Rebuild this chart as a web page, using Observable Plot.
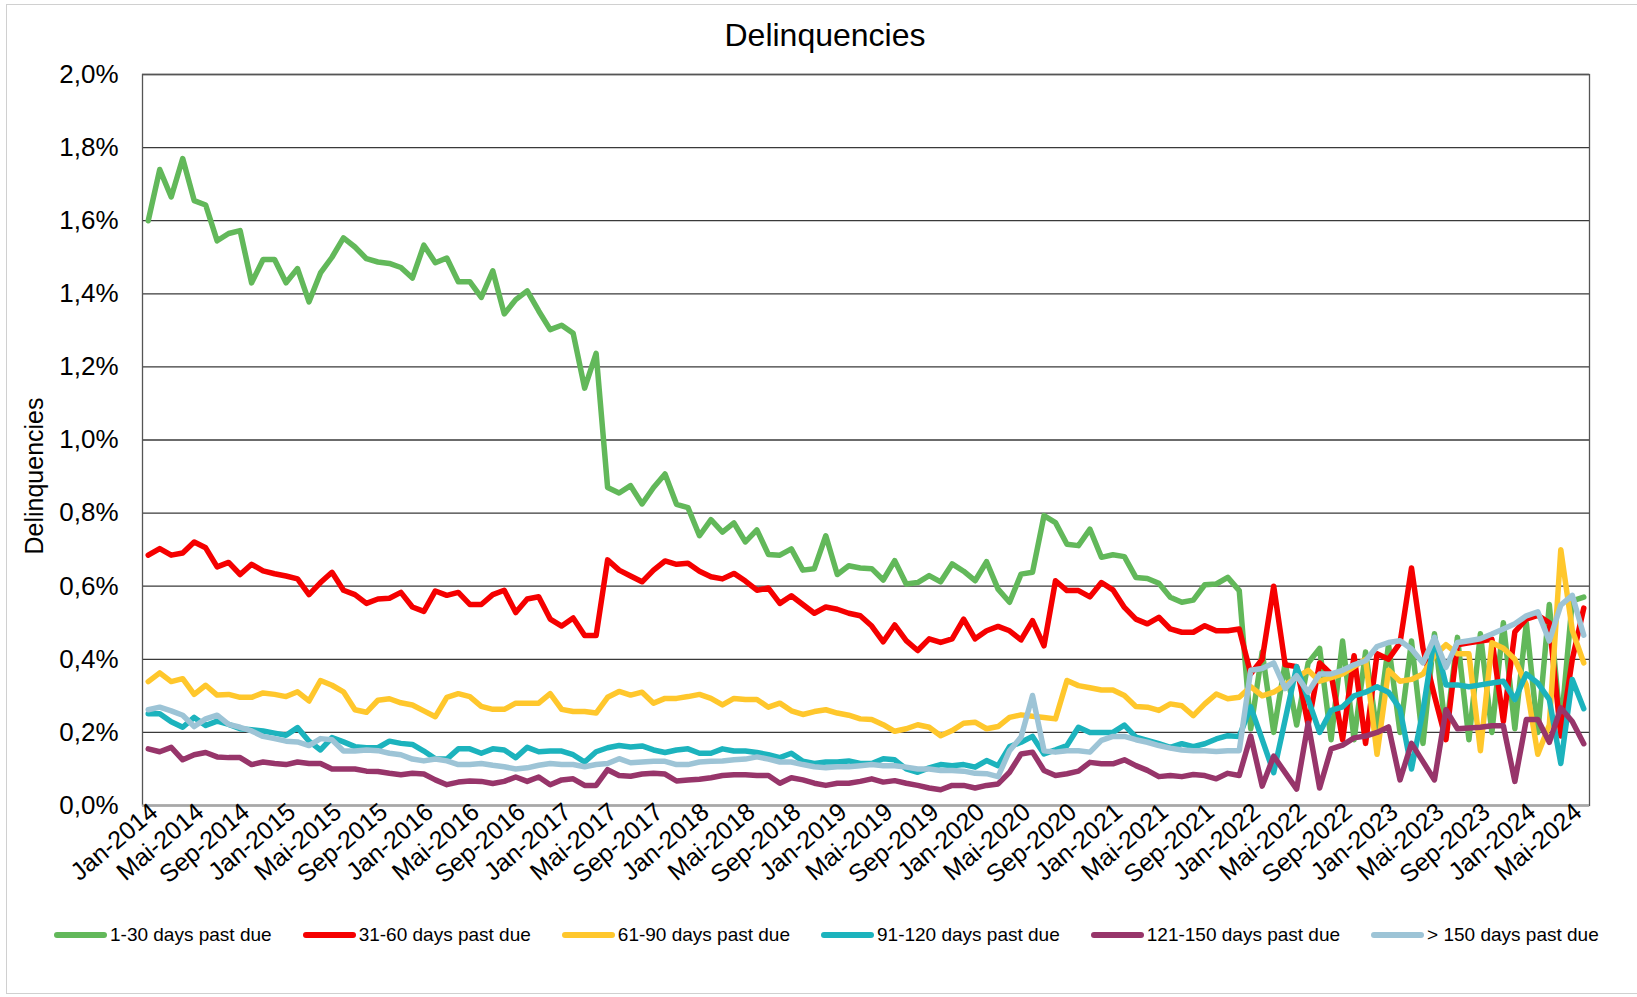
<!DOCTYPE html>
<html>
<head>
<meta charset="utf-8">
<script src="https://cdn.jsdelivr.net/npm/d3@7"></script>
<script src="https://cdn.jsdelivr.net/npm/@observablehq/plot@0.6"></script>
<style>
  html, body { margin: 0; padding: 0; background: #fff; overflow: hidden; }
  #wrap { position: relative; width: 1637px; height: 997px; font-family: "Liberation Sans", Arial, sans-serif; color: #000; }
  #border { position: absolute; left: 6px; top: 4px; width: 1660px; height: 990px; border: 1px solid #d0d0d0; box-sizing: border-box; }
  #title { position: absolute; left: 6px; width: 1638px; top: 16px; text-align: center; font-size: 32px; line-height: 38px; }
  #ylabel { position: absolute; left: 34px; top: 476px; transform: translate(-50%, -50%) rotate(-90deg); font-size: 25px; white-space: nowrap; }
  #chart { position: absolute; left: 0; top: 0; }
  #legend { position: absolute; left: 54px; top: 924px; display: flex; align-items: center; gap: 31px; font-size: 19px; white-space: nowrap; }
  .item { display: flex; align-items: center; gap: 3px; }
  .sw { width: 53px; height: 6px; border-radius: 3px; }
</style>
</head>
<body>
<div id="wrap">
  <div id="border"></div>
  <div id="chart"></div>
  <div id="title">Delinquencies</div>
  <div id="ylabel">Delinquencies</div>
  <div id="legend"></div>
</div>
<script>
// Series names and colours
const seriesNames = ["1-30 days past due", "31-60 days past due", "61-90 days past due", "91-120 days past due", "121-150 days past due", "> 150 days past due"];
const seriesColors = ["#62b85a", "#f50000", "#ffc72c", "#1cb3bd", "#97356a", "#9dc4d6"];

// X tick labels (every 4 months, Jan-2014 .. Mai-2024); data runs monthly Jan-2014 .. Jun-2024 (126 months)
const tickLabels = ["Jan-2014","Mai-2014","Sep-2014","Jan-2015","Mai-2015","Sep-2015","Jan-2016","Mai-2016","Sep-2016","Jan-2017","Mai-2017","Sep-2017","Jan-2018","Mai-2018","Sep-2018","Jan-2019","Mai-2019","Sep-2019","Jan-2020","Mai-2020","Sep-2020","Jan-2021","Mai-2021","Sep-2021","Jan-2022","Mai-2022","Sep-2022","Jan-2023","Mai-2023","Sep-2023","Jan-2024","Mai-2024"];
const yTicks = [0, 0.2, 0.4, 0.6, 0.8, 1.0, 1.2, 1.4, 1.6, 1.8, 2.0];

// Values in percent, one per month from Jan-2014
const d1_30 = [1.60,1.74,1.665,1.77,1.655,1.643,1.545,1.565,1.573,1.43,1.494,1.494,1.43,1.469,1.378,1.457,1.50,1.553,1.528,1.496,
1.487,1.483,1.472,1.443,1.533,1.485,1.498,1.433,1.433,1.390,1.463,1.345,1.384,1.408,1.353,1.302,1.314,1.292,1.142,1.237,
0.870,0.855,0.875,0.825,0.870,0.907,0.824,0.815,0.738,0.782,0.748,0.773,0.721,0.754,0.687,0.685,0.702,0.644,0.648,0.738,
0.632,0.656,0.650,0.648,0.617,0.670,0.606,0.610,0.629,0.612,0.661,0.641,0.615,0.667,0.592,0.556,0.633,0.638,0.793,0.774,
0.715,0.711,0.756,0.679,0.686,0.681,0.624,0.621,0.608,0.570,0.556,0.562,0.604,0.606,0.624,0.588,
0.21,0.42,0.20,0.39,0.22,0.39,0.43,0.18,0.45,0.18,0.42,0.20,0.44,0.20,0.45,0.17,0.47,0.20,0.46,0.18,
0.47,0.20,0.50,0.21,0.50,0.20,0.55,0.21,0.56,0.57];
const d31_60 = [0.685,0.703,0.685,0.691,0.721,0.705,0.653,0.665,0.632,0.660,0.642,0.634,0.628,0.620,0.577,0.610,0.638,0.589,0.577,0.553,
0.565,0.567,0.583,0.543,0.531,0.587,0.575,0.583,0.550,0.550,0.577,0.589,0.528,0.565,0.571,0.510,0.491,0.513,0.465,0.465,
0.672,0.644,0.628,0.612,0.644,0.669,0.660,0.663,0.641,0.626,0.620,0.635,0.614,0.589,0.595,0.553,0.574,0.550,0.526,0.543,
0.537,0.526,0.519,0.491,0.448,0.494,0.451,0.424,0.456,0.446,0.456,0.510,0.456,0.478,0.490,0.478,0.453,0.506,0.437,0.615,
0.588,0.588,0.571,0.610,0.590,0.542,0.510,0.497,0.515,0.483,0.474,0.474,0.492,0.478,0.478,0.483,
0.36,0.40,0.60,0.385,0.38,0.22,0.39,0.36,0.18,0.41,0.17,0.415,0.40,0.445,0.65,0.43,0.30,0.18,0.44,0.445,
0.45,0.455,0.23,0.475,0.51,0.52,0.50,0.19,0.40,0.54];
const d61_90 = [0.339,0.363,0.339,0.347,0.304,0.329,0.302,0.304,0.296,0.296,0.308,0.304,0.298,0.311,0.286,0.342,0.329,0.311,0.262,0.255,
0.288,0.292,0.281,0.275,0.259,0.243,0.296,0.306,0.298,0.271,0.263,0.263,0.280,0.280,0.280,0.306,0.263,0.257,0.257,0.253,
0.296,0.312,0.302,0.310,0.280,0.293,0.293,0.298,0.304,0.293,0.275,0.293,0.290,0.290,0.269,0.280,0.259,0.249,0.257,0.262,
0.253,0.247,0.237,0.235,0.221,0.203,0.210,0.221,0.214,0.191,0.205,0.225,0.228,0.210,0.216,0.241,0.248,0.244,0.241,0.237,
0.342,0.328,0.322,0.316,0.316,0.301,0.271,0.269,0.260,0.278,0.273,0.246,0.278,0.305,0.292,0.296,
0.325,0.30,0.31,0.33,0.35,0.37,0.34,0.35,0.36,0.38,0.40,0.14,0.37,0.34,0.345,0.36,0.41,0.44,0.415,0.415,
0.15,0.445,0.43,0.40,0.33,0.14,0.22,0.70,0.48,0.39];
const d91_120 = [0.251,0.251,0.229,0.214,0.241,0.219,0.231,0.222,0.210,0.207,0.204,0.198,0.192,0.213,0.176,0.152,0.186,0.174,0.161,0.158,
0.158,0.176,0.170,0.167,0.149,0.128,0.127,0.155,0.155,0.143,0.155,0.152,0.131,0.159,0.147,0.149,0.149,0.139,0.119,0.147,
0.158,0.164,0.160,0.163,0.152,0.145,0.152,0.155,0.143,0.143,0.155,0.149,0.149,0.145,0.139,0.131,0.143,0.121,0.115,0.119,
0.119,0.122,0.115,0.115,0.128,0.125,0.100,0.091,0.103,0.112,0.109,0.112,0.105,0.123,0.109,0.161,0.173,0.189,0.141,0.152,
0.164,0.214,0.200,0.200,0.200,0.220,0.187,0.178,0.169,0.159,0.169,0.161,0.169,0.182,0.191,0.189,
0.27,0.18,0.09,0.235,0.38,0.29,0.20,0.26,0.27,0.30,0.31,0.325,0.31,0.265,0.10,0.26,0.46,0.33,0.33,0.325,
0.33,0.335,0.34,0.29,0.36,0.335,0.29,0.115,0.345,0.265];
const d121_150 = [0.155,0.147,0.159,0.125,0.139,0.145,0.133,0.131,0.131,0.112,0.119,0.115,0.112,0.119,0.115,0.115,0.100,0.100,0.100,0.094,
0.093,0.088,0.084,0.088,0.086,0.070,0.057,0.064,0.067,0.066,0.060,0.066,0.078,0.066,0.078,0.057,0.070,0.073,0.055,0.055,
0.098,0.082,0.080,0.086,0.088,0.086,0.067,0.070,0.072,0.076,0.082,0.084,0.084,0.082,0.082,0.061,0.076,0.070,0.061,0.055,
0.061,0.061,0.066,0.073,0.064,0.068,0.061,0.055,0.048,0.043,0.055,0.055,0.048,0.055,0.059,0.091,0.141,0.146,0.096,0.082,
0.087,0.094,0.118,0.114,0.114,0.125,0.109,0.096,0.079,0.082,0.079,0.085,0.082,0.073,0.088,0.082,
0.19,0.053,0.135,0.09,0.045,0.225,0.048,0.155,0.165,0.185,0.19,0.20,0.215,0.07,0.17,0.12,0.07,0.262,0.21,0.212,
0.214,0.218,0.218,0.066,0.235,0.235,0.173,0.267,0.23,0.169];
const d150plus = [0.262,0.269,0.259,0.247,0.216,0.237,0.247,0.222,0.214,0.204,0.189,0.183,0.176,0.174,0.164,0.183,0.180,0.149,0.149,0.152,
0.150,0.143,0.139,0.127,0.122,0.127,0.122,0.112,0.112,0.115,0.110,0.106,0.100,0.103,0.110,0.115,0.112,0.112,0.106,0.112,
0.115,0.128,0.117,0.119,0.121,0.121,0.112,0.112,0.119,0.121,0.122,0.125,0.127,0.133,0.127,0.119,0.119,0.112,0.106,0.103,
0.106,0.106,0.109,0.112,0.109,0.109,0.105,0.100,0.100,0.096,0.096,0.094,0.088,0.087,0.079,0.150,0.187,0.301,0.150,0.146,
0.150,0.150,0.146,0.178,0.189,0.189,0.180,0.173,0.164,0.157,0.152,0.150,0.150,0.148,0.150,0.150,
0.37,0.375,0.39,0.32,0.355,0.31,0.36,0.36,0.37,0.385,0.396,0.435,0.446,0.451,0.428,0.39,0.46,0.378,0.446,0.451,
0.456,0.469,0.483,0.497,0.519,0.53,0.45,0.548,0.575,0.466];

const seriesValues = [d1_30, d31_60, d61_90, d91_120, d121_150, d150plus];
const data = seriesValues.flatMap((vals, s) => vals.map((v, i) => ({series: seriesNames[s], i, v})));
const tickIdx = tickLabels.map((_, k) => k * 4);
const font = '"Liberation Sans", Arial, sans-serif';

const chart = Plot.plot({
  width: 1637,
  height: 890,
  marginLeft: 142,
  marginRight: 48,
  marginTop: 74,
  marginBottom: 85,
  style: {fontFamily: font, color: "#000", background: "transparent", overflow: "visible"},
  x: {type: "linear", domain: [-0.5, 125.5]},
  y: {domain: [0, 2.0]},
  color: {domain: seriesNames, range: seriesColors},
  marks: [
    Plot.gridY(yTicks, {stroke: "#3a3a3a", strokeOpacity: 1, strokeWidth: 1.3}),
    Plot.frame({stroke: "#555", strokeWidth: 1.3}),
    Plot.ruleY([0], {stroke: "#a8a8a8", strokeWidth: 2}),
    Plot.axisY(yTicks, {tickSize: 0, tickPadding: 24, fontSize: 26, label: null,
      tickFormat: d => d.toFixed(1).replace(".", ",") + "%"}),
    Plot.axisX(tickIdx, {tickSize: 0, tickPadding: 4, fontSize: 25, label: null, tickRotate: -40,
      textAnchor: "end", dx: 6, dy: -1, tickFormat: d => tickLabels[d / 4]}),
    Plot.line(data, {x: "i", y: "v", z: "series", stroke: "series", strokeWidth: 5.5, strokeLinejoin: "round", strokeLinecap: "round"})
  ]
});
document.getElementById("chart").appendChild(chart);

const legend = document.getElementById("legend");
seriesNames.forEach((name, k) => {
  const item = document.createElement("div");
  item.className = "item";
  const sw = document.createElement("span");
  sw.className = "sw";
  sw.style.background = seriesColors[k];
  const t = document.createElement("span");
  t.textContent = name;
  item.appendChild(sw);
  item.appendChild(t);
  legend.appendChild(item);
});
</script>
</body>
</html>
